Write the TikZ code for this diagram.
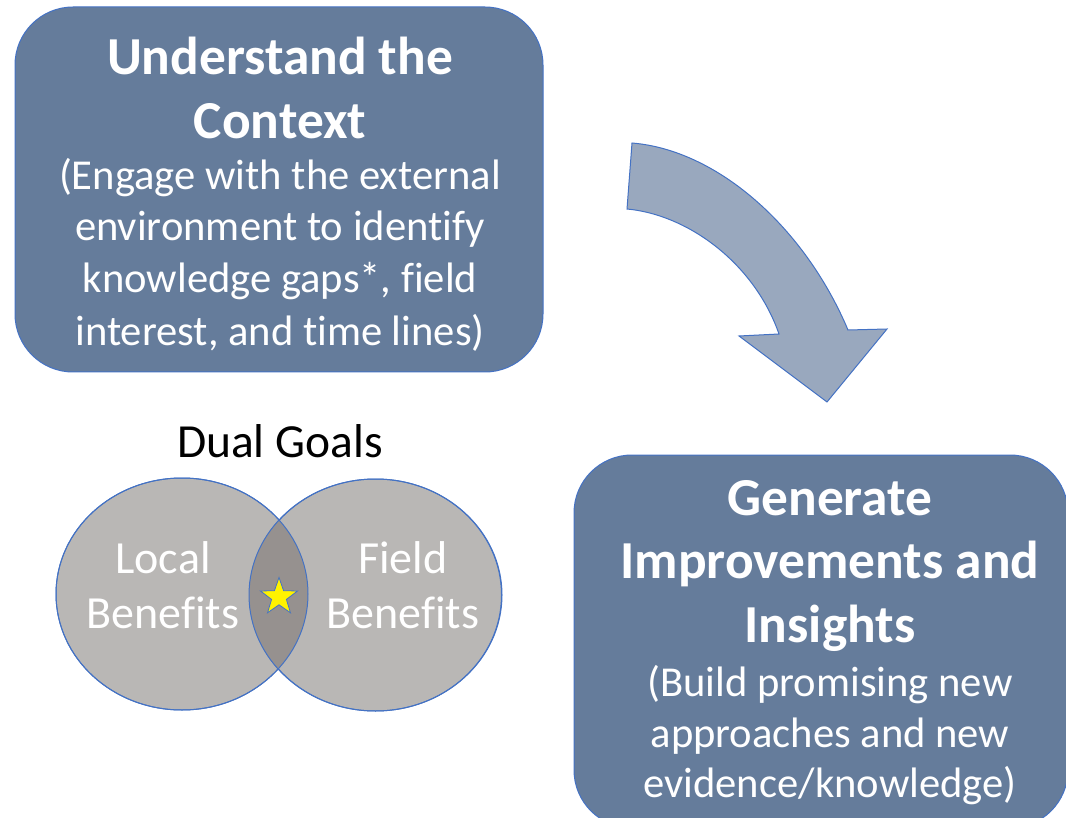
\documentclass[tikz,border=0pt]{standalone}
\usepackage{fontspec}
\setmainfont{Carlito}[RawFeature={-liga;-clig;-dlig;-calt;-ccmp;-rlig}]
\usetikzlibrary{shapes.geometric}
\definecolor{boxfill}{RGB}{101,124,155}
\definecolor{edgeblue}{RGB}{68,114,196}
\definecolor{arrowfill}{RGB}{153,168,190}
\definecolor{circfill}{RGB}{185,183,181}
\definecolor{lensfill}{RGB}{150,145,143}
\begin{document}
\begin{tikzpicture}[x=1pt,y=-1pt,
  box/.style={draw=edgeblue, line width=1pt, fill=boxfill, rounded corners=58pt, inner sep=0pt},
  ttl/.style={text=white, font=\fontsize{53.4}{63}\bfseries\selectfont, anchor=base, inner sep=0pt},
  sub/.style={text=white, font=\fontsize{42.6}{51}\selectfont, anchor=base, inner sep=0pt},
  venn/.style={text=white, font=\fontsize{46}{55}\selectfont, anchor=base, inner sep=0pt},
  goal/.style={text=black, font=\fontsize{47.5}{56}\selectfont, anchor=base, inner sep=0pt},
  circ/.style={ellipse, draw=edgeblue, line width=1pt, minimum width=252pt, minimum height=232pt, inner sep=0pt},
  starmark/.style={star, star points=5, star point ratio=2.5, draw=edgeblue, line width=0.8pt, fill=yellow, minimum size=39pt, inner sep=0pt}]
\useasboundingbox (0,0) rectangle (1066,818);
\clip (0,0) rectangle (1066,818);

% top box
\node[box, minimum width=528pt, minimum height=365pt] (ctx) at (279,189.5) {};
\node[ttl] (ctx1) at (280,75) {Understand the};
\node[ttl] (ctx2) at (280,138.5) {Context};
\node[sub] (ctx3) at (280,189.5) {(Engage with the external};
\node[sub] (ctx4) at (280,241) {environment to identify};
\node[sub] (ctx5) at (280,293) {knowledge gaps*, field};
\node[sub] (ctx6) at (280,345) {interest, and time lines)};

% bottom right box
\node[box, minimum width=494pt, minimum height=373pt] (gen) at (821,641.5) {};
\node[ttl] (gen1) at (830,515) {Generate};
\node[ttl] (gen2) at (830,578) {Improvements and};
\node[ttl] (gen3) at (830,642) {Insights};
\node[sub] (gen4) at (830,696) {(Build promising new};
\node[sub] (gen5) at (830,747) {approaches and new};
\node[sub] (gen6) at (830,797) {evidence/knowledge)};

% curved block arrow
\draw[draw=edgeblue, line width=1pt, fill=arrowfill, line join=miter]
  (632,143) .. controls (718,150) and (805,228) .. (848,330)
  -- (887,329) -- (827,402) -- (739,336) -- (779,334)
  .. controls (755,265) and (690,215) .. (627,209) -- cycle;

% Venn diagram
\node[goal] (dual) at (280,457) {Dual Goals};
\node[circ, fill=circfill] (loc) at (182,594) {};
\node[circ, fill=circfill] (fld) at (375.5,595) {};
\begin{scope}
  \clip (182,594) ellipse [x radius=126, y radius=116];
  \fill[lensfill] (375.5,595) ellipse [x radius=126.5, y radius=116];
\end{scope}
\draw[edgeblue, line width=1pt] (182,594) ellipse [x radius=126, y radius=116];
\draw[edgeblue, line width=1pt] (375.5,595) ellipse [x radius=126.5, y radius=116];
\node[venn] (loc1) at (163,573) {Local};
\node[venn] (loc2) at (163,628) {Benefits};
\node[venn] (fld1) at (403,573) {Field};
\node[venn] (fld2) at (403,628) {Benefits};
\node[starmark] (st) at (279,597) {};
\end{tikzpicture}
\end{document}
